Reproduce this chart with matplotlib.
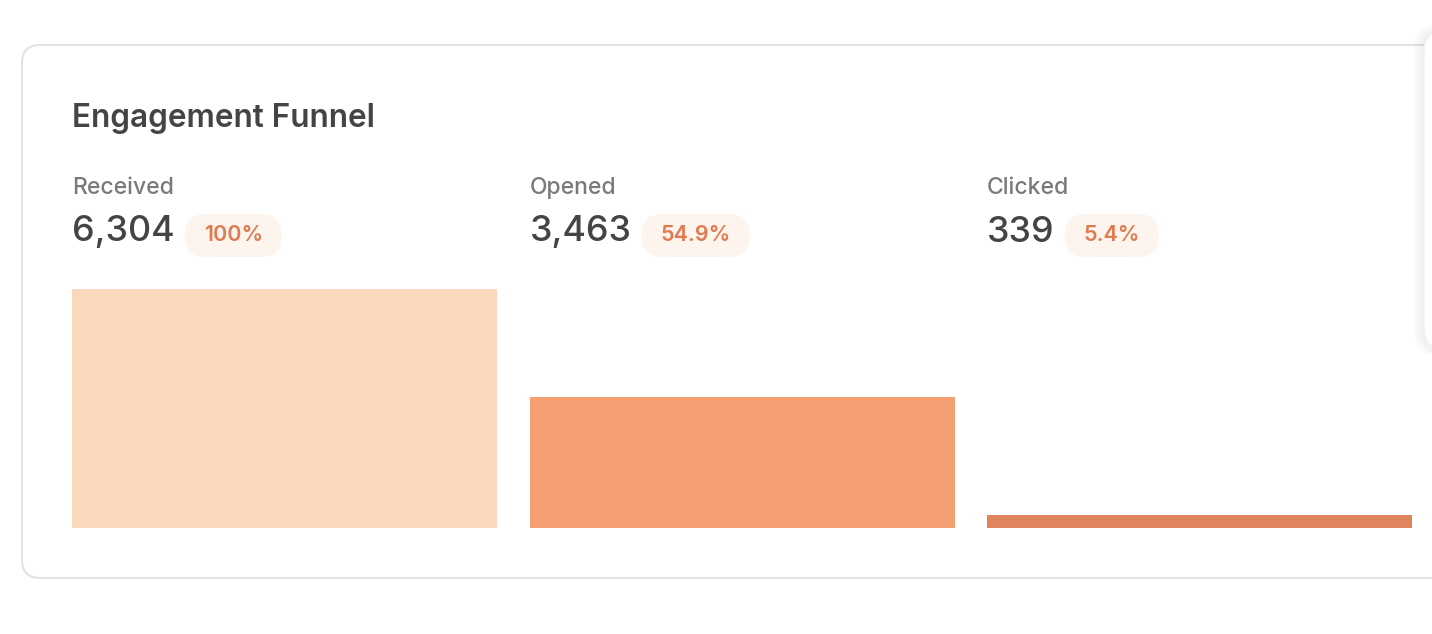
import matplotlib.pyplot as plt
from matplotlib.patches import FancyBboxPatch

stages = ['Received', 'Opened', 'Clicked']
counts = [6304, 3463, 339]
shares = ['100%', '54.9%', '5.4%']
colors = ['#F9D8BC', '#F4A073', '#E0845D']

W, H = 1432, 634
fig = plt.figure(figsize=(W / 100, H / 100), dpi=100)
fig.patch.set_facecolor('white')
plt.rcParams['font.family'] = ['Inter', 'DejaVu Sans']

# background layer in pixel coordinates
bg = fig.add_axes([0, 0, 1, 1])
bg.set_xlim(0, W)
bg.set_ylim(H, 0)
bg.axis('off')

card = FancyBboxPatch((22, 45), 1460, 533, boxstyle='round,pad=0,rounding_size=18',
                      fc='white', ec='#E2E2E2', lw=1.5)
bg.add_patch(card)

# faint shadow of neighbouring panel on the far right
for k in range(6):
    bg.add_patch(FancyBboxPatch((1424 - k * 2, 30 - k), 80, 320 + 2 * k,
                                boxstyle='round,pad=0,rounding_size=22',
                                fc='#000000', alpha=0.012, ec='none'))
bg.add_patch(FancyBboxPatch((1424, 30), 80, 320, boxstyle='round,pad=0,rounding_size=22',
                            fc='white', ec='#F0F0F0', lw=1))

bg.text(72, 118, 'Engagement Funnel', fontsize=22.7, fontweight='semibold',
        color='#444444', va='center')

fig.canvas.draw()
renderer = fig.canvas.get_renderer()
slot = 457.5
for i, (name, n, s) in enumerate(zip(stages, counts, shares)):
    x0 = 72 + i * slot
    bg.text(x0, 188, name, fontsize=16.5, fontweight='medium', color='#7A7A7A', va='center')
    t = bg.text(x0, 232, f'{n:,}', fontsize=25.8, fontweight='medium', color='#444444', va='center')
    wpx = t.get_window_extent(renderer).width
    bx = x0 + wpx + 10
    st = bg.text(0, 0, s, fontsize=15.5, fontweight='semibold', color='#E07A50',
                 ha='center', va='center')
    pill_w = st.get_window_extent(renderer).width + 38
    st.set_position((bx + pill_w / 2, 235))
    bg.add_patch(FancyBboxPatch((bx, 214), pill_w, 43,
                                boxstyle='round,pad=0,rounding_size=21',
                                fc='#FEF4EE', ec='none'))

# bars
ax = fig.add_axes([72 / W, (H - 528) / H, 1340 / W, 239 / H])
ax.bar(range(len(counts)), counts, width=425 / slot, color=colors)
ax.set_xlim(-0.5 * 425 / slot, len(counts) - 1 + 0.5 * 425 / slot)
ax.set_ylim(0, max(counts))
ax.axis('off')

fig.savefig('out.png', dpi=100, facecolor='white')
